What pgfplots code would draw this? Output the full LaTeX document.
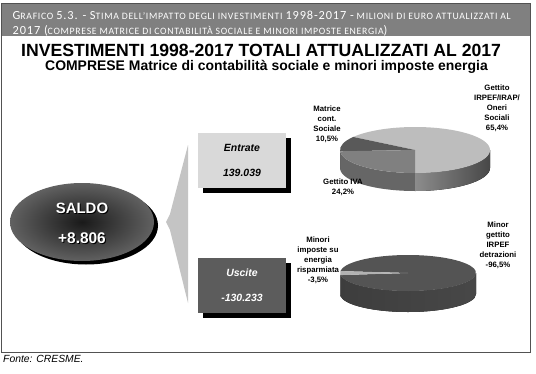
\documentclass[border=0pt]{standalone}
\usepackage{pgfplots}
\pgfplotsset{compat=1.18}
\usepackage{fontspec}
\setmainfont{Liberation Sans}
\newfontfamily\hdrfont[LetterSpace=7]{Carlito}
\newcommand\BC[1]{{\fontsize{12.4}{13}\selectfont #1}}
\newcommand\SC[1]{{\fontsize{9.8}{13}\selectfont #1}}
% pie data (percent)
\def\pIRPEF{65.4}\def\pMatrice{10.5}\def\pIVA{24.2}
\def\pEnergia{3.5}\def\pDetraz{96.5}
\pgfmathsetmacro\aA{-90+3.6*\pIRPEF}
\pgfmathsetmacro\aB{\aA+3.6*\pMatrice}
\pgfmathsetmacro\bA{174}
\pgfmathsetmacro\bB{\bA+3.6*\pEnergia}
\pgfmathsetmacro\bC{\bA+360}
\newcommand\pieWedge[7]{%
 \fill[#7] (axis cs:#1,#2) -- ++(#5:#3bp and #4bp) arc[start angle=#5, end angle=#6, x radius=#3bp, y radius=#4bp] -- cycle;}
\newcommand\pieSide[8]{%
 \fill[#8] (axis cs:#1,#2) ++(#5:#3bp and #4bp) arc[start angle=#5, end angle=#6, x radius=#3bp, y radius=#4bp] -- ++(0,-#7bp) arc[start angle=#6, end angle=#5, x radius=#3bp, y radius=#4bp] -- cycle;}
\begin{document}
\begin{tikzpicture}
\begin{axis}[hide axis, scale only axis, width=536bp, height=374bp,
  xmin=0, xmax=536, ymin=0, ymax=374, y dir=reverse, clip=false]
\fill[white] (axis cs:0,0) rectangle (axis cs:536,374);
% header band and frame
\fill[black!50] (axis cs:1,3) rectangle (axis cs:530.5,36);
\draw[black!68, line width=0.9bp] (axis cs:1,3) rectangle (axis cs:530.5,352);
\node[anchor=base west, text=white, inner sep=0pt, font=\hdrfont] at (axis cs:12.5,19.5)
  {\BC{G}\SC{RAFICO} \BC{5.3. - S}\SC{TIMA DELL’IMPATTO DEGLI INVESTIMENTI} \BC{1998-2017 -} \SC{MILIONI DI EURO ATTUALIZZATI AL}};
\node[anchor=base west, text=white, inner sep=0pt, font=\hdrfont] at (axis cs:12.5,34.5)
  {\BC{2017 (}\SC{COMPRESE MATRICE DI CONTABILITÀ SOCIALE E MINORI IMPOSTE ENERGIA}\BC{)}};
% titles
\node[anchor=base west, inner sep=0pt, font=\fontsize{17.7}{20}\selectfont\bfseries] at (axis cs:21,56.8)
  {INVESTIMENTI 1998-2017 TOTALI ATTUALIZZATI AL 2017};
\node[anchor=base west, inner sep=0pt, font=\fontsize{14}{16}\selectfont\bfseries] at (axis cs:45,70.5)
  {COMPRESE Matrice di contabilità sociale e minori imposte energia};
% SALDO ellipse
\fill[black] (axis cs:86,225.5) ellipse [x radius=72bp, y radius=39bp];
\shade[inner color=black!90, outer color=black!62] (axis cs:82,222) ellipse [x radius=72bp, y radius=39bp];
\node[text=black, font=\fontsize{15}{17}\selectfont\bfseries] at (axis cs:83,209) {SALDO};
\node[text=white, font=\fontsize{15}{17}\selectfont\bfseries] at (axis cs:82,208) {SALDO};
\node[text=black, font=\fontsize{15.5}{17}\selectfont\bfseries] at (axis cs:83,239) {+8.806};
\node[text=white, font=\fontsize{15.5}{17}\selectfont\bfseries] at (axis cs:82,238) {+8.806};
% funnel
\fill[black!23] (axis cs:188,145) -- (axis cs:170,214) -- (axis cs:166,222) -- (axis cs:170,230) -- (axis cs:188,303) -- cycle;
% boxes
\fill[black] (axis cs:203,138) rectangle (axis cs:291,193);
\fill[black!15] (axis cs:198,133) rectangle (axis cs:286,188);
\node[font=\fontsize{10.5}{12}\selectfont\bfseries\itshape] at (axis cs:242,148) {Entrate};
\node[font=\fontsize{10.5}{12}\selectfont\bfseries\itshape] at (axis cs:242,173) {139.039};
\fill[black] (axis cs:203,263) rectangle (axis cs:291,318);
\fill[black!64] (axis cs:198,258) rectangle (axis cs:286,313);
\node[text=white, font=\fontsize{10.5}{12}\selectfont\bfseries\itshape] at (axis cs:242,273) {Uscite};
\node[text=white, font=\fontsize{10.5}{12}\selectfont\bfseries\itshape] at (axis cs:242,298) {-130.233};
% top pie: sides
\pieSide{415}{150}{75}{23}{\aB}{270}{18}{black!60}
\pieSide{415}{150}{75}{23}{180}{\aB}{18}{black!70}
\pieSide{415}{150}{75}{23}{270}{360}{18}{left color=black!45, right color=black!72}
% top pie: faces
\pieWedge{415}{150}{75}{23}{-90}{\aA}{black!26}
\pieWedge{415}{150}{75}{23}{\aA}{\aB}{black!65}
\pieWedge{415}{150}{75}{23}{\aB}{270}{black!50}
% bottom pie: sides
\pieSide{408}{273}{68}{18}{\bB}{360}{21}{left color=black!76, right color=black!72}
\pieSide{408}{273}{68}{18}{180}{\bB}{21}{black!40}
% bottom pie: faces
\pieWedge{408}{273}{68}{18}{\bB}{\bC}{black!67}
\pieWedge{408}{273}{68}{18}{\bA}{\bB}{black!30}
% pie labels
\node[align=center, font=\fontsize{7.8}{10.1}\selectfont\bfseries] at (axis cs:497,108) {Gettito\\IRPEF/IRAP/\\Oneri\\Sociali\\65,4\%};
\node[align=center, font=\fontsize{7.8}{10.1}\selectfont\bfseries] at (axis cs:327,124.5) {Matrice\\cont.\\Sociale\\10,5\%};
\node[align=center, font=\fontsize{7.8}{10.1}\selectfont\bfseries] at (axis cs:343,187) {Gettito IVA\\24,2\%};
\node[align=center, font=\fontsize{7.8}{10.1}\selectfont\bfseries] at (axis cs:318,260) {Minori\\imposte su\\energia\\risparmiata\\-3,5\%};
\node[align=center, font=\fontsize{7.8}{10.1}\selectfont\bfseries] at (axis cs:498,245) {Minor\\gettito\\IRPEF\\detrazioni\\-96,5\%};
% source
\node[anchor=base west, inner sep=0pt, font=\fontsize{10.4}{12}\selectfont\itshape] at (axis cs:3,362) {Fonte: CRESME.};
\end{axis}
\end{tikzpicture}
\end{document}
